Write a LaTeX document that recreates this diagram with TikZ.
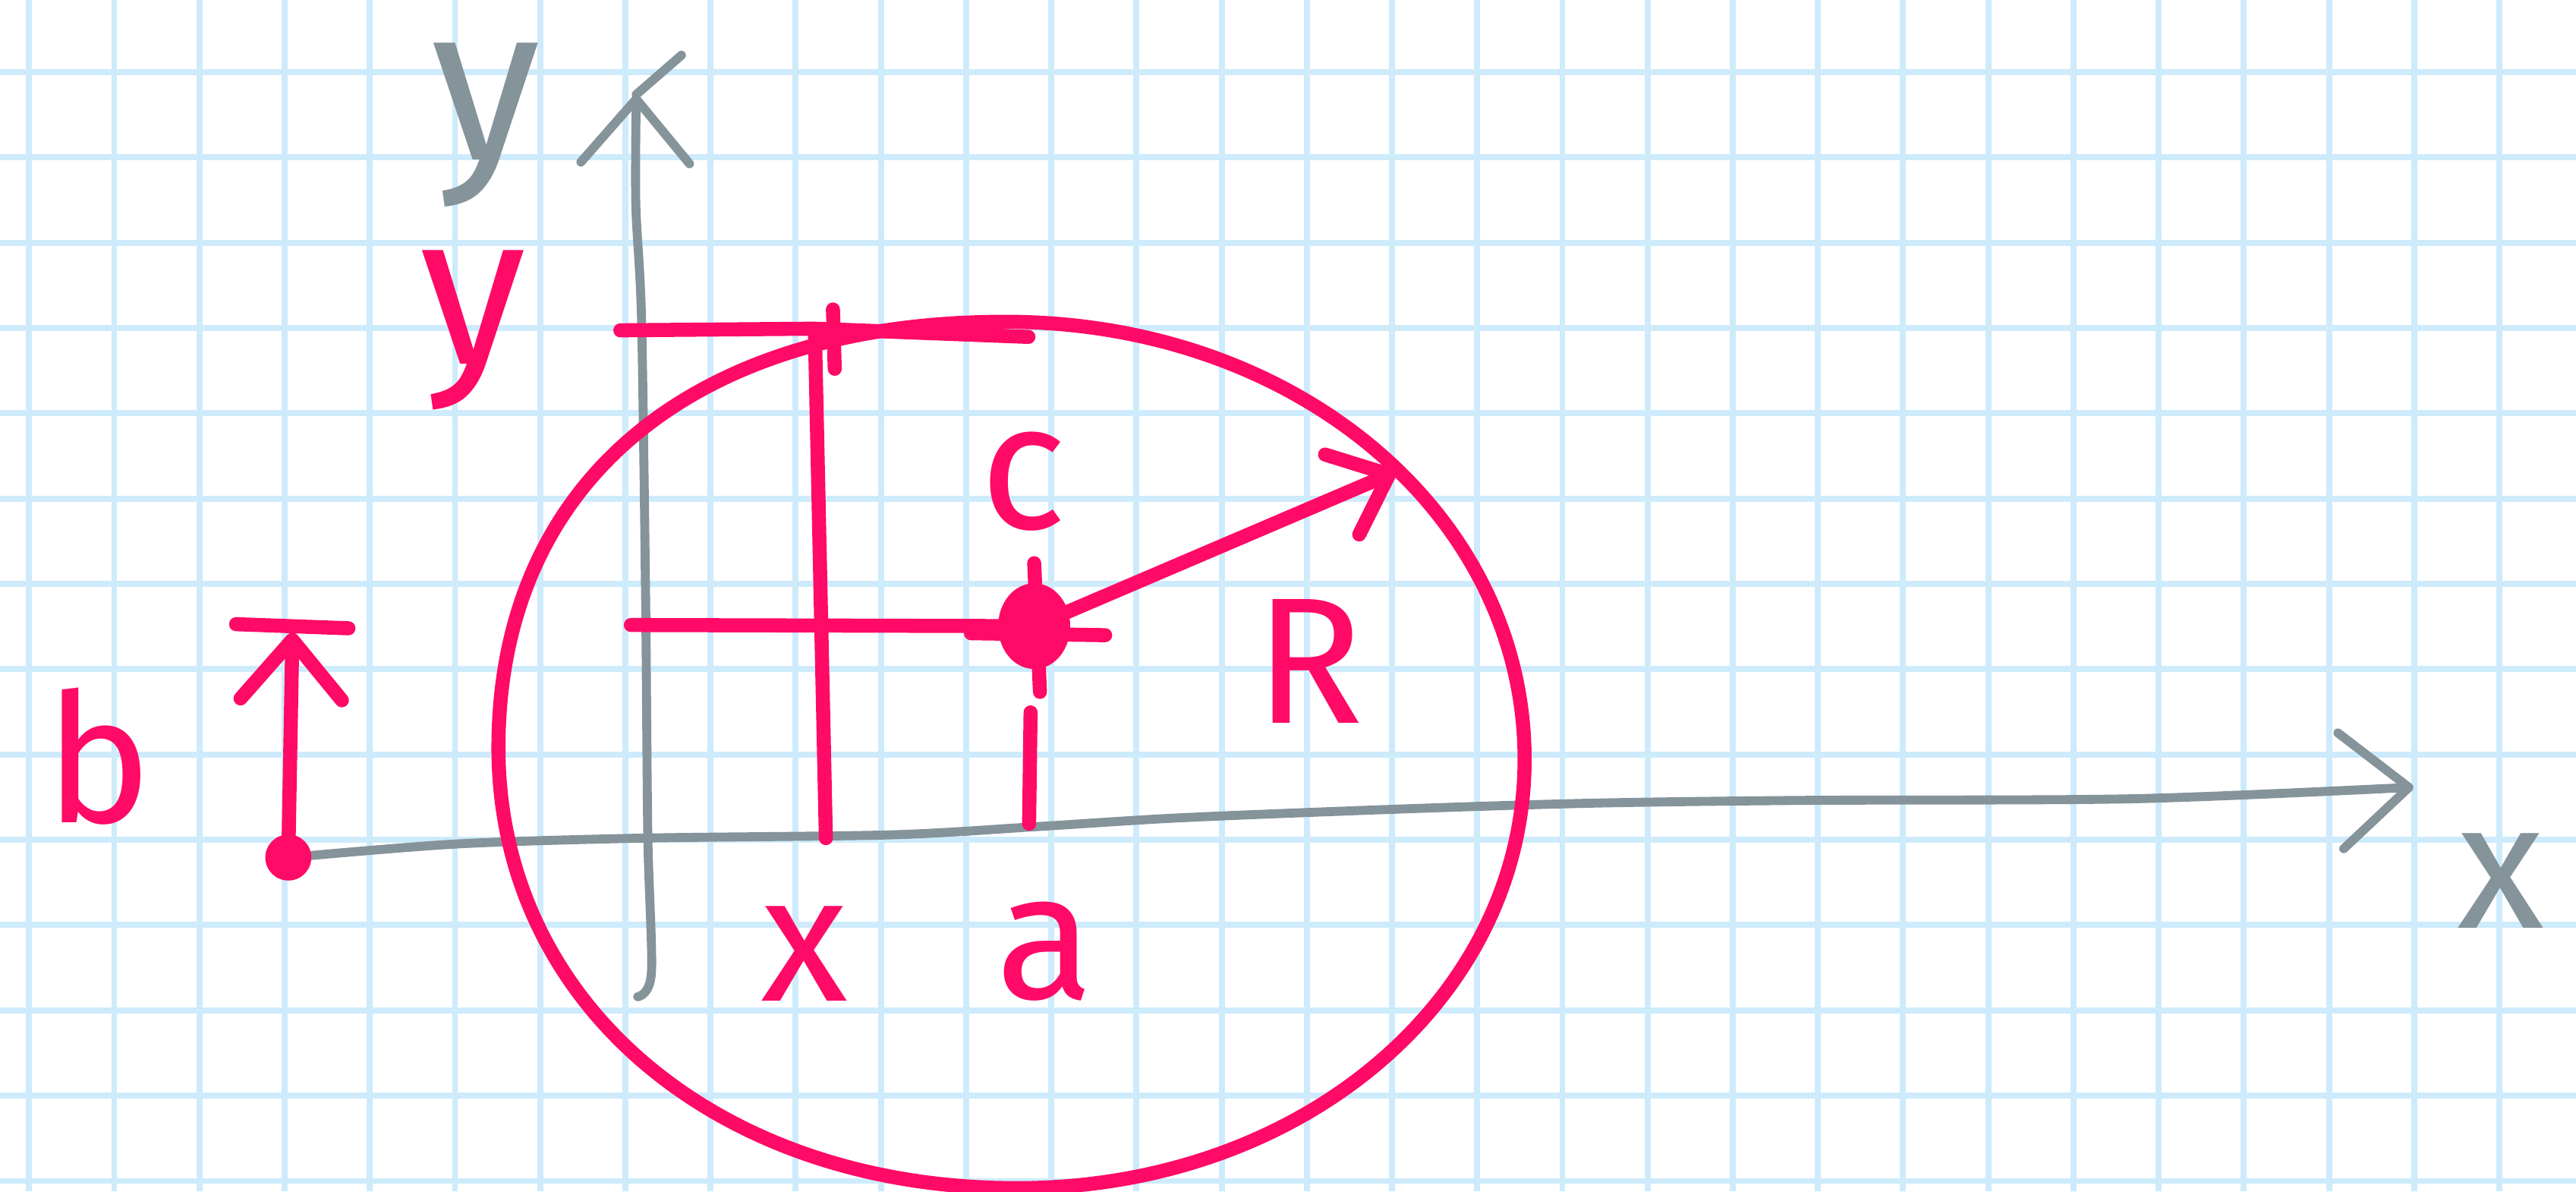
\documentclass[tikz,border=0pt]{standalone}
\usepackage{fontspec}
\setmainfont{Fira Sans}
\usetikzlibrary{arrows.meta}

\definecolor{inkpink}{HTML}{FF0A66}
\definecolor{inkgray}{HTML}{85939A}
\definecolor{gridblue}{HTML}{CDEBFB}

\begin{document}
\begin{tikzpicture}[
    x=0.019286cm, y=-0.019286cm,
    paper/.style={draw=gridblue, line width=2pt},
    axis/.style={draw=inkgray, line width=3pt, line cap=round, line join=round},
    ink/.style={draw=inkpink, line width=4.7pt, line cap=round, line join=round},
    letter/.style={text=inkpink, inner sep=0pt, font=\fontsize{60}{60}\selectfont},
    axletter/.style={text=inkgray, inner sep=0pt, font=\fontsize{60}{60}\selectfont},
    barb/.style={-{Straight Barb[length=#1, width=1.7*#1, round]}}
]

% Grid paper
\useasboundingbox (0,0) rectangle (1568,725);
\fill[white] (0,0) rectangle (1568,725);
\foreach \gx in {0,...,29} \draw[paper] ({17.7+51.85*\gx},0) -- ++(0,725);
\foreach \gy in {0,...,13} \draw[paper] (0,{43.9+51.9*\gy}) -- ++(1568,0);

% Points
\coordinate (B) at (175.5,521.8);
\coordinate (Btip) at (178,385);
\coordinate (Xend) at (1469,479);
\coordinate (Ybot) at (396.5,592);
\coordinate (Yend) at (387.3,57.5);
\coordinate (C) at (629.5,381);
\coordinate (Rtip) at (849.5,287);
\coordinate (ctop) at (612,195.8);
\coordinate (cright) at (928,462);
\coordinate (cbot) at (619,723);
\coordinate (cleft) at (303.4,455);

% Axes
\draw[axis, barb=0.8cm] plot[smooth] coordinates {(B) (277,513.6) (390,510) (542,508) (631,503) (719,497.6) (852,492.3) (970,488.7) (1100,487) (1300,486) (Xend)};
\draw[axis, barb=0.75cm] plot[smooth] coordinates {(388.2,606.5) (Ybot) (394.3,508) (393,365.8) (390.5,194.5) (387,124) (Yend)};
\draw[axis] (Yend) -- (414.8,33.6);

% Circle
\draw[ink] (cright) .. controls +(0,146) and +(173,0) .. (cbot)
    .. controls +(-183,0) and +(0,155) .. (cleft)
    .. controls +(0,-161) and +(-191,0) .. (ctop)
    .. controls +(177,0) and +(0,-149) .. (cright) -- cycle;

% Guides to the point on the circle and to the centre
\draw[ink] (377.6,201) -- (495.4,200) -- (626,205);
\draw[ink] (507,188.3) -- (508.1,224.4);
\draw[ink] (496,201) -- (502.7,510);
\draw[ink] (384,380.3) -- (C);
\draw[ink] (591,385.3) -- (672.7,386.5);
\draw[ink] (629.5,342.7) -- (633,421);
\draw[ink] (627.3,433.5) -- (626.4,501.2);

% Centre and radius
\filldraw[ink, fill=inkpink] (C) ellipse [x radius=0.34cm, y radius=0.42cm];
\draw[ink, barb=0.6cm] (C) -- (Rtip);

% Offset b
\fill[inkpink] (B) circle [radius=0.27cm];
\draw[ink, barb=0.7cm] (B) -- (Btip);
\draw[ink] (143.7,379.8) -- (212.1,382.3);

% Labels
\node[axletter, font=\fontsize{74}{74}\selectfont] (ylab) at (296,76) {y};
\node[axletter] (xlab) at (1522,536) {x};
\node[letter, font=\fontsize{72}{72}\selectfont] (ylbl) at (288,201) {y};
\node[letter] (blbl) at (60,460) {b};
\node[letter] (xlbl) at (489.5,580.5) {x};
\node[letter] (albl) at (636,579) {a};
\node[letter] (clbl) at (623,293) {c};
\node[letter] (Rlbl) at (797,402.6) {R};

\end{tikzpicture}
\end{document}
